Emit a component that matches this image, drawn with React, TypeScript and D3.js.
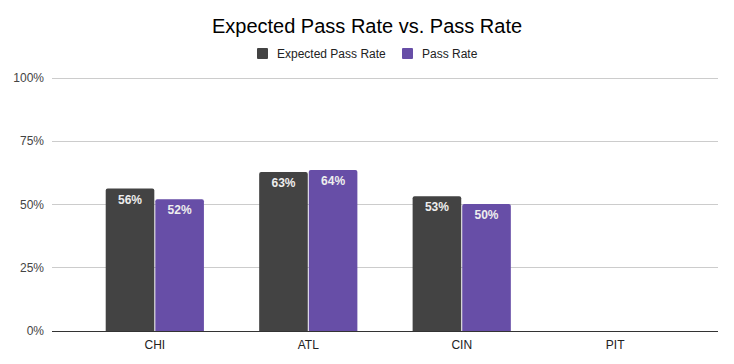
import { useRef, useEffect } from 'react'
import * as d3 from 'd3'

const WIDTH = 734
const HEIGHT = 364

const categories = ['CHI', 'ATL', 'CIN', 'PIT']
const seriesNames = ['Expected Pass Rate', 'Pass Rate']
const seriesColors = ['#434343', '#674ea7']
const expectedPassRate: (number | null)[] = [0.563, 0.628, 0.533, null]
const passRate: (number | null)[] = [0.521, 0.636, 0.502, null]
const yTicks = [0, 0.25, 0.5, 0.75, 1]

export default function App() {
  const svgRef = useRef<SVGSVGElement>(null)

  useEffect(() => {
    if (!svgRef.current) return
    const svg = d3.select(svgRef.current)
    svg.selectAll('*').remove()

    const margin = { top: 78, right: 16, bottom: 33, left: 52 }
    const x0 = margin.left
    const x1 = WIDTH - margin.right
    const y0 = HEIGHT - margin.bottom

    const x = d3
      .scaleBand<string>()
      .domain(categories)
      .range([x0, x1])
      .paddingInner(0.36)
      .paddingOuter(0.35)
    const xs = d3
      .scaleBand<number>()
      .domain([0, 1])
      .range([0, x.bandwidth()])
      .paddingInner(0.02)
    const y = d3.scaleLinear().domain([0, 1]).range([y0, margin.top])

    // title
    svg
      .append('text')
      .attr('x', 367)
      .attr('y', 33)
      .attr('text-anchor', 'middle')
      .attr('font-size', 20)
      .attr('fill', '#000')
      .text('Expected Pass Rate vs. Pass Rate')

    // legend
    const legend = svg.append('g').attr('font-size', 12).attr('fill', '#222')
    const legendX = [257, 402]
    seriesNames.forEach((name, i) => {
      legend
        .append('rect')
        .attr('x', legendX[i])
        .attr('y', 48)
        .attr('width', 11)
        .attr('height', 11)
        .attr('rx', 1)
        .attr('fill', seriesColors[i])
      legend
        .append('text')
        .attr('x', legendX[i] + 20)
        .attr('y', 58)
        .text(name)
    })

    // gridlines + y labels
    yTicks.forEach((t) => {
      svg
        .append('line')
        .attr('x1', x0)
        .attr('x2', x1)
        .attr('y1', y(t))
        .attr('y2', y(t))
        .attr('stroke', t === 0 ? '#333' : '#ccc')
        .attr('stroke-width', 1)
        .attr('shape-rendering', 'crispEdges')
      svg
        .append('text')
        .attr('x', 44)
        .attr('y', y(t) + 4)
        .attr('text-anchor', 'end')
        .attr('font-size', 12)
        .attr('fill', '#444')
        .text(d3.format('.0%')(t))
    })

    // bars
    const series = [expectedPassRate, passRate]
    series.forEach((vals, si) => {
      vals.forEach((v, ci) => {
        if (v == null) return
        const bx = (x(categories[ci]) ?? 0) + (xs(si) ?? 0)
        const bw = xs.bandwidth()
        const top = y(v)
        const r = 2
        const path = d3.path()
        path.moveTo(bx, y0)
        path.lineTo(bx, top + r)
        path.quadraticCurveTo(bx, top, bx + r, top)
        path.lineTo(bx + bw - r, top)
        path.quadraticCurveTo(bx + bw, top, bx + bw, top + r)
        path.lineTo(bx + bw, y0)
        path.closePath()
        svg.append('path').attr('d', path.toString()).attr('fill', seriesColors[si])
        svg
          .append('text')
          .attr('x', bx + bw / 2)
          .attr('y', top + 15)
          .attr('text-anchor', 'middle')
          .attr('font-size', 12)
          .attr('font-weight', 'bold')
          .attr('fill', '#eee')
          .text(d3.format('.0%')(v))
      })
    })

    // redraw baseline on top
    svg
      .append('line')
      .attr('x1', x0)
      .attr('x2', x1)
      .attr('y1', y0)
      .attr('y2', y0)
      .attr('stroke', '#333')
      .attr('shape-rendering', 'crispEdges')

    // x labels
    categories.forEach((c) => {
      svg
        .append('text')
        .attr('x', (x(c) ?? 0) + x.bandwidth() / 2)
        .attr('y', y0 + 18)
        .attr('text-anchor', 'middle')
        .attr('font-size', 12)
        .attr('fill', '#222')
        .text(c)
    })
  }, [])

  return (
    <svg
      ref={svgRef}
      width={WIDTH}
      height={HEIGHT}
      style={{ position: 'absolute', left: 0, top: 0, background: '#fff', fontFamily: '"Liberation Sans", Arial, sans-serif' }}
    />
  )
}
